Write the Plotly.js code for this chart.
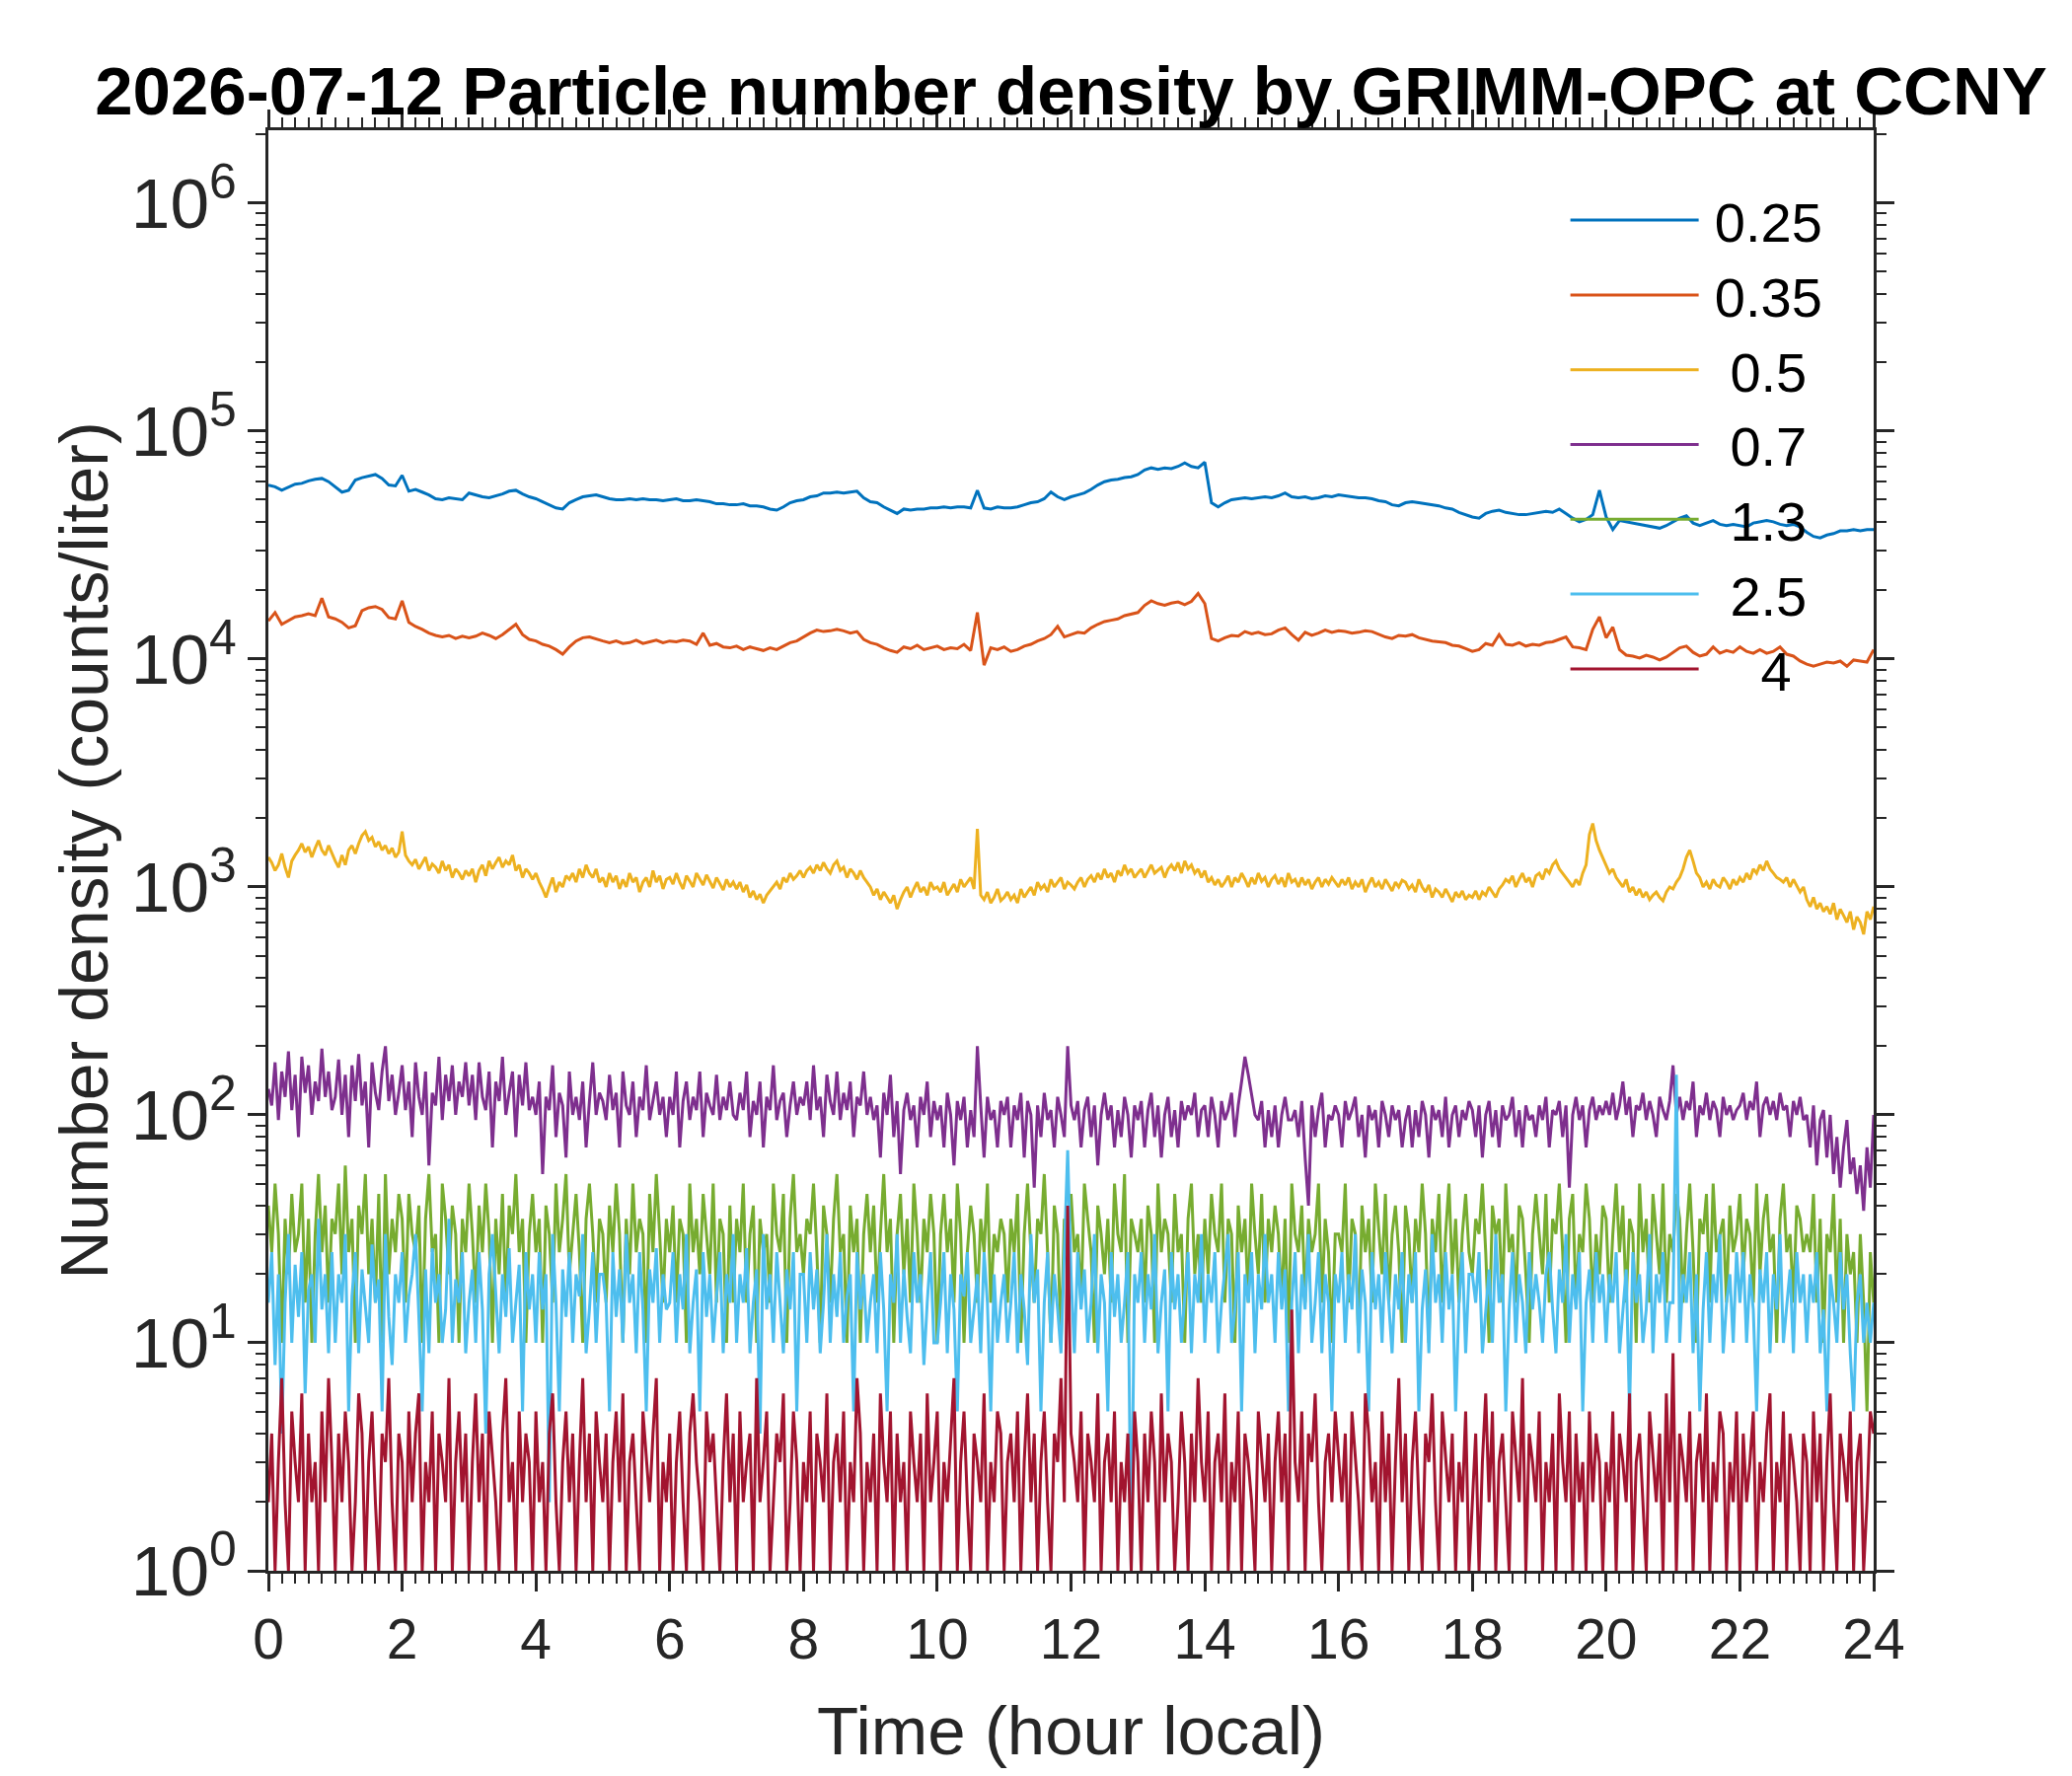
<!DOCTYPE html>
<html>
<head>
<meta charset="utf-8">
<script src="https://cdn.plot.ly/plotly-3.0.1.min.js"></script>
<style>
  html, body { margin: 0; padding: 0; background: #fff; }
</style>
</head>
<body>
<div id="chart-area" style="width:2100px;height:1800px"></div>
<script>
// size bins (um) as they appear in the legend (padded like MATLAB's num2str column)
const binNames = ["\u20090.25", "\u20090.35", "\u2009\u00a00.5", "\u2009\u00a00.7", "\u2009\u00a01.3", "\u2009\u00a02.5", "\u2009\u00a0\u00a0\u00a04"];
const binColors = ["#0072BD", "#D95319", "#EDB120", "#7E2F8E", "#77AC30", "#4DBEEE", "#A2142F"];

// y tick labels (MATLAB style 10^n for every decade)
const yTickAlias = { "1": "10<sup>0</sup>", "10": "10<sup>1</sup>" };

// 0.25 um, read every 0.1 h
const bin025 = [
  58000, 57000, 55000, 56500, 58500, 59000, 60500, 61500, 62000, 60000,
  57000, 54000, 55000, 61000, 62500, 63500, 64500, 62000, 58000, 57500,
  64000, 54500, 55500, 54000, 52500, 50500, 50000, 51000, 50500, 50000,
  53500, 52500, 51500, 51000, 52000, 53000, 54500, 55000, 53000, 51500,
  50500, 49000, 47500, 46000, 45500, 48500, 50000, 51500, 52000, 52500,
  51500, 50500, 50000, 50000, 50500, 50000, 50500, 50000, 50000, 49500,
  50000, 50500, 49500, 49500, 50000, 49500, 49000, 48000, 48000, 47500,
  47500, 48000, 47000, 47000, 46500, 45500, 45000, 46500, 48500, 49500,
  50000, 51500, 52000, 53500, 53500, 54000, 53500, 54000, 54500, 51000,
  49000, 48500, 46500, 45000, 43500, 45500, 45000, 45500, 45500, 46000,
  46000, 46500, 46000, 46500, 46500, 46000, 55000, 46000, 45500, 46500,
  46000, 46000, 46500, 47500, 48500, 49000, 50500, 54000, 51500, 50000,
  51500, 52500, 53500, 55500, 58000, 60000, 61000, 61500, 62500, 63000,
  64500, 67500, 69000, 68000, 69000, 68500, 70000, 72500, 70000, 69000,
  73000, 48500, 46500, 48500, 50000, 50500, 51000, 50500, 51000, 51500,
  51000, 52000, 53500, 51500, 51000, 51500, 50500, 51000, 52000, 51500,
  52500, 52000, 51500, 51000, 51000, 50500, 49500, 49000, 47500, 47000,
  48500, 49000, 48500, 48000, 47500, 47000, 46000, 45500, 44000, 43000,
  42000, 41500, 43500, 44500, 45000, 44000, 43500, 43000, 43000, 43500,
  44000, 44500, 44000, 45500, 43500, 41500, 40000, 41000, 43000, 55000,
  42000, 37000, 40500, 40000, 39500, 39000, 38500, 38000, 37500, 38500,
  40000, 41500, 42500, 39500, 38500, 39500, 40500, 39000, 38500, 39000,
  38500, 38000, 39500, 40000, 40500, 40000, 39000, 38500, 39000, 38000,
  36000, 34500, 34000, 35000, 35500, 36500, 36500, 37000, 36500, 37000,
  37000
];

// 0.35 um, every 0.1 h
const bin035 = [
  14700, 16000, 14200, 14800, 15300, 15500, 15800, 15500, 18500, 15300,
  15000, 14500, 13700, 14000, 16300, 16800, 17000, 16500, 15200, 15000,
  18000, 14500, 13900, 13500, 13000, 12700, 12500, 12700, 12300, 12600,
  12400, 12600, 13000, 12700, 12300, 12800, 13500, 14200, 12800, 12200,
  12000, 11600, 11400, 11000, 10500, 11300, 12000, 12400, 12500, 12200,
  12000, 11800, 12000, 11700, 11800, 12100, 11700, 11900, 12100, 11800,
  12000, 11900, 12100, 12000, 11600, 13000, 11500, 11700, 11300, 11200,
  11400, 11000, 11300, 11100, 10900, 11200, 11000, 11400, 11800, 12000,
  12500, 13000, 13400, 13200, 13300, 13500, 13300, 13000, 13200, 12200,
  11800, 11600, 11200, 10900, 10700, 11300, 11100, 11500, 11000, 11200,
  11400, 11000, 11200, 11100, 11600, 10900, 16000, 9400, 11200, 11000,
  11300, 10800, 11000, 11400, 11600, 12000, 12300, 12800, 13900, 12500,
  12800, 13100, 13000, 13700, 14200, 14600, 14800, 15000, 15500, 15800,
  16000, 17200, 18000, 17500, 17200, 17600, 17800, 17300, 17900, 19400,
  17500, 12300, 12000, 12400, 12700, 12600, 13200, 12900, 13100, 12800,
  12900, 13400, 13700, 12800, 12100, 13100, 12700, 13000, 13400, 13100,
  13300, 13200, 13000, 13100, 13300, 13200, 12800, 12500, 12300, 12700,
  12600, 12800, 12400, 12200, 12000, 11900, 11800, 11500, 11400, 11100,
  10800, 11000, 11700, 11500, 12800, 11600, 11500, 11800, 11400, 11600,
  11500, 11800, 11900, 12200, 12500, 11300, 11200, 11000, 13500, 15300,
  12400, 13800, 11000, 10400, 10300, 10100, 10400, 10200, 9900, 10200,
  10700, 11200, 11400, 10700, 10300, 10500, 11300, 10600, 10900, 10700,
  11300, 10800, 10600, 11000, 10600, 10800, 11300, 10500, 10300, 9800,
  9500, 9300, 9500, 9700, 9600, 9800, 9300, 9900, 9800, 9700,
  11000
];

// 0.5 um, every 0.05 h
const bin05 = [
  1350,1280,1180,1250,1400,1220,1100,1300,1380,1450,1550,1420,1500,1350,1480,1600,1450,1380,1520,1400,
  1300,1220,1380,1250,1450,1520,1400,1550,1680,1750,1600,1650,1500,1580,1450,1520,1400,1480,1350,1420,
  1750,1380,1300,1250,1320,1200,1280,1350,1180,1260,1220,1150,1300,1180,1250,1100,1200,1150,1080,1180,
  1120,1200,1050,1180,1250,1120,1300,1200,1280,1350,1220,1300,1250,1380,1180,1250,1100,1200,1150,1080,
  1150,1050,980,900,1000,1100,950,1050,1000,1120,1080,1150,1050,1200,1100,1250,1150,1100,1200,1050,
  1100,1000,1150,1050,1120,980,1080,1000,1150,1050,1100,950,1050,1100,1000,1180,1050,1120,980,1080,
  1100,1030,1150,1050,980,1120,1060,1000,1150,1080,1020,1130,1050,990,1100,1040,970,1080,1000,1050,
  980,1050,950,1020,900,960,880,930,850,920,960,1000,1050,980,1100,1050,1150,1080,1120,1180,
  1100,1180,1220,1150,1250,1180,1280,1200,1150,1250,1300,1180,1220,1100,1200,1150,1080,1180,1100,1050,
  1000,920,980,880,950,900,850,920,800,880,950,1000,900,980,1050,950,1000,920,1050,980,
  1000,950,1050,920,980,1030,950,1080,1000,1050,1100,980,1800,920,880,950,850,900,980,870,
  900,950,880,920,850,980,900,950,1000,920,1050,980,1020,950,1080,1000,1050,1100,980,1050,
  1020,980,1050,1100,1000,1080,1120,1050,1150,1080,1200,1100,1150,1050,1180,1120,1250,1150,1200,1100,
  1150,1200,1100,1180,1250,1150,1180,1220,1100,1200,1250,1180,1280,1150,1300,1200,1250,1150,1200,1100,
  1180,1050,1100,1020,1080,1000,1050,1120,1000,1100,1050,1150,1080,1000,1100,1030,1150,1060,1100,1000,
  1080,1120,1030,1100,1000,1150,1050,1080,1000,1100,1020,1080,980,1050,1100,1000,1080,1030,1100,1050,
  1000,1080,1020,1100,980,1050,1000,1080,950,1030,1100,1000,1050,980,1080,1020,960,1050,1000,1070,
  1050,980,1020,950,1080,1000,950,1020,900,980,950,900,980,920,860,950,900,960,880,920,
  900,960,880,950,920,1000,950,900,980,1020,1080,1050,1120,1000,1080,1150,1050,1100,1000,1120,
  1150,1080,1200,1150,1250,1300,1200,1150,1100,1050,1000,1080,1020,1150,1250,1700,1900,1600,1450,1350,
  1250,1150,1200,1100,1050,1000,1080,950,1000,920,980,900,950,880,920,950,900,870,950,1000,
  980,1050,1100,1200,1350,1450,1300,1150,1100,1000,1050,980,1080,1020,1000,1100,1050,980,1080,1020,
  1100,1050,1150,1080,1200,1150,1250,1180,1300,1200,1150,1100,1080,1050,1100,1000,1080,1020,950,1000,
  880,820,900,800,850,780,820,760,850,720,800,750,700,780,650,740,700,620,780,720,
  820
];

// 0.7 um, every 0.05 h
const bin07 = [
  130,110,170,95,155,120,190,105,150,80,180,125,165,100,140,115,195,120,155,105,
  120,175,100,150,80,165,115,185,110,140,72,170,125,105,155,200,115,150,100,125,
  165,105,140,80,170,120,100,155,60,125,110,180,95,150,115,165,100,140,120,170,
  110,150,95,170,120,105,155,72,140,115,180,100,125,155,80,150,110,170,105,120,
  100,140,55,120,105,165,80,125,110,65,155,100,120,95,140,72,115,170,100,125,
  115,95,150,105,125,72,155,110,100,140,80,120,105,165,95,115,140,100,120,80,
  120,100,155,72,115,140,95,120,105,155,80,125,110,100,150,95,120,105,140,100,
  95,125,105,155,80,115,100,140,72,120,105,165,95,115,125,80,110,140,100,120,
  110,140,95,165,105,120,80,150,115,100,155,95,125,105,140,80,120,110,155,100,
  120,95,110,65,125,100,150,80,115,55,105,125,95,110,72,120,100,140,80,115,
  95,110,72,125,100,60,115,95,120,72,105,80,200,110,65,120,95,105,72,115,
  100,120,72,110,95,125,65,115,100,48,110,80,125,95,105,72,120,100,80,200,
  110,95,115,72,105,120,80,110,60,100,125,95,110,72,105,80,120,100,65,110,
  95,115,72,105,125,80,110,65,100,120,80,105,72,115,95,110,100,125,80,105,
  110,80,120,100,72,115,95,105,125,80,110,140,180,150,120,100,95,115,72,105,
  80,110,72,100,120,95,95,105,80,115,65,40,110,80,105,125,72,100,95,110,
  100,72,115,95,105,120,80,100,65,110,95,105,72,115,100,80,110,95,105,72,
  95,110,72,105,80,115,100,65,110,95,105,80,120,72,100,110,80,105,95,115,
  105,80,110,65,100,115,80,105,72,110,95,100,120,80,105,72,110,95,100,80,
  110,95,120,72,105,100,115,80,110,48,100,120,95,110,72,105,120,95,110,100,
  115,100,125,95,110,140,100,120,80,110,105,125,95,115,100,80,120,105,95,115,
  165,100,120,95,115,105,140,80,110,100,125,95,115,105,80,120,100,110,95,105,
  110,125,95,115,105,140,80,110,120,100,115,95,125,105,110,80,115,100,120,95,
  100,72,110,60,95,105,65,100,55,80,48,72,95,55,65,45,60,38,72,48,
  100
];

// 1.3 um, every 0.05 h
const bin13 = [
  40,25,50,30,10,35,20,45,25,30,50,15,35,10,30,55,25,40,15,35,
  30,50,20,60,25,35,10,40,30,55,20,35,15,45,10,55,20,35,25,45,
  35,15,45,30,25,40,10,35,55,25,30,10,50,35,20,40,30,10,35,25,
  50,30,15,40,25,50,30,10,35,20,45,15,40,30,55,25,35,10,30,45,
  25,35,10,40,30,15,50,25,35,55,20,30,45,25,10,35,50,30,15,35,
  30,15,40,25,50,30,10,35,20,50,25,35,30,10,45,25,55,30,15,35,
  25,40,15,35,30,10,50,25,35,20,45,30,20,50,15,35,30,10,40,15,
  35,25,50,15,30,40,10,35,25,30,15,50,30,25,45,10,35,55,25,30,
  20,35,30,50,25,10,40,30,15,35,55,25,30,10,40,25,35,10,30,45,
  25,40,15,30,55,25,35,10,30,45,20,35,15,50,30,15,35,25,45,30,
  10,30,45,25,35,15,50,30,10,25,40,30,15,35,25,50,15,30,25,35,
  30,15,35,25,45,10,30,50,25,15,35,30,55,25,10,40,30,10,35,25,
  45,25,30,15,50,35,25,10,40,30,20,35,15,50,30,25,55,10,35,30,
  25,35,15,40,30,10,50,25,35,30,15,45,25,30,10,35,50,20,30,15,
  35,20,45,30,25,50,15,35,30,10,40,25,35,15,50,30,20,45,15,35,
  25,40,30,15,35,10,50,30,25,40,15,35,25,30,50,15,35,25,10,30,
  30,25,50,15,35,30,10,40,25,35,15,50,30,20,45,15,30,40,25,10,
  40,30,15,35,25,50,30,10,35,25,45,15,30,50,20,35,15,30,45,25,
  20,35,30,50,25,10,40,30,35,15,50,25,30,15,40,35,20,10,30,45,
  30,20,45,15,35,30,50,25,10,35,45,15,30,25,50,35,15,30,20,40,
  35,15,30,50,25,40,15,35,30,10,50,25,35,15,45,30,20,50,15,30,
  25,45,35,15,30,50,25,10,35,30,45,15,50,25,30,35,15,40,25,30,
  45,20,35,30,15,50,20,35,45,25,30,10,35,50,25,30,15,40,35,25,
  30,25,45,15,35,10,30,25,45,15,35,10,30,20,25,10,30,15,5,25,
  15
];

// 2.5 um, every 0.05 h
const bin25 = [
  15,25,8,20,4,15,30,10,22,13,25,6,17,20,10,35,14,20,9,25,
  10,20,15,30,5,16,25,9,21,14,10,27,15,19,5,30,13,8,20,15,
  25,10,16,20,30,13,5,21,9,26,15,20,10,14,35,10,19,15,25,9,
  15,21,10,25,14,4,20,30,16,9,20,13,26,10,15,22,5,25,14,20,
  10,25,14,20,2,30,15,5,21,13,25,10,20,16,30,9,14,25,10,20,
  20,15,5,25,13,21,10,30,15,20,9,25,14,5,21,15,26,10,20,14,
  15,25,10,20,14,30,9,15,21,5,25,13,20,10,16,25,9,20,15,30,
  10,20,15,26,9,15,21,4,30,14,20,10,25,15,9,21,14,25,5,20,
  20,10,25,14,21,9,15,30,10,20,13,25,10,16,20,5,25,14,20,10,
  15,20,9,25,14,5,20,15,30,10,21,13,9,25,15,20,8,15,25,10,
  10,15,25,9,20,14,5,20,16,25,10,14,20,9,25,15,5,20,10,15,
  20,10,15,25,9,20,14,8,30,15,21,5,15,25,10,20,14,9,25,70,
  20,9,25,14,21,10,15,30,9,20,15,5,25,13,20,10,15,25,1,20,
  15,25,10,20,14,30,9,15,21,5,25,14,20,10,16,25,9,20,15,30,
  10,20,15,25,9,15,21,30,10,14,25,5,20,15,25,9,20,14,30,15,
  20,10,25,14,21,5,15,25,9,20,14,30,10,15,25,9,20,15,5,20,
  15,25,10,20,14,30,9,21,15,5,25,14,20,10,25,15,9,20,14,25,
  10,20,15,25,5,14,21,9,30,15,20,10,25,14,20,5,15,25,9,20,
  20,15,25,9,14,21,10,30,15,20,5,14,25,10,20,15,9,25,14,20,
  15,10,20,25,14,9,21,15,30,10,20,14,25,5,15,21,10,25,15,20,
  10,20,15,25,9,14,21,5,25,15,20,10,14,30,9,20,15,25,10,15,
  15,150,10,20,15,25,9,20,5,14,25,10,20,15,30,9,15,20,10,25,
  15,25,10,20,14,5,21,15,25,9,20,14,30,10,15,21,9,25,15,20,
  10,20,15,25,9,14,5,20,15,10,25,14,20,9,5,15,20,10,15,10,
  15
];

// 4 um, every 0.05 h
const bin4 = [
  2,4,1,3,7,2,1,5,3,2,6,1,4,2,3,1,5,2,7,3,
  1,4,2,5,3,1,2,6,4,1,3,5,2,1,4,3,7,2,1,4,
  3,1,5,2,4,6,1,3,2,5,1,4,3,2,7,1,3,5,2,4,
  1,3,6,2,4,1,5,3,2,1,4,7,2,3,1,5,2,4,3,1,
  5,2,3,1,4,6,2,1,3,5,2,4,1,3,7,2,4,1,5,3,
  2,4,1,3,5,2,6,1,3,4,2,1,5,3,2,4,7,1,3,2,
  4,1,3,5,2,1,4,6,3,2,1,5,3,4,2,1,3,6,2,4,
  1,5,2,3,4,1,7,2,3,5,1,2,4,3,6,1,2,5,3,1,
  3,2,5,1,4,3,2,6,1,3,4,2,5,1,3,2,7,4,1,3,
  2,4,1,6,3,2,5,1,4,2,3,1,5,3,2,4,1,6,2,3,
  5,1,3,2,4,7,1,3,5,2,1,4,3,2,6,1,3,2,5,4,
  1,3,4,2,5,1,3,6,2,4,1,3,5,2,1,4,3,7,2,40,
  4,3,2,5,1,4,3,2,6,1,3,4,2,5,1,3,2,4,1,5,
  3,1,4,2,5,3,1,6,2,4,3,1,2,5,3,1,4,2,7,3,
  2,5,1,3,4,2,6,1,3,2,5,1,4,3,2,1,5,3,2,4,
  1,3,5,2,4,1,14,3,2,5,1,4,3,6,2,1,3,4,2,5,
  3,2,4,1,5,3,2,1,6,4,2,3,1,5,2,4,1,3,7,2,
  4,1,3,5,2,1,4,3,6,2,1,5,3,2,4,1,3,2,5,1,
  2,4,1,3,6,2,5,1,3,4,2,1,5,3,2,7,1,4,3,2,
  5,1,3,2,4,1,6,3,2,5,1,4,2,3,1,5,2,4,3,1,
  3,2,5,1,4,3,2,6,1,3,4,2,1,5,3,2,4,1,6,2,
  9,1,4,3,2,5,1,3,4,2,6,1,3,2,5,4,1,3,2,5,
  1,4,2,3,5,1,3,2,4,6,1,3,2,5,1,4,3,2,1,4,
  3,1,5,2,4,1,3,6,2,1,4,3,2,5,1,3,4,1,2,5,
  4
];

// sampling times (hour local)
let hoursCoarse = [];
for (let i = 0; i <= 240; i++) hoursCoarse.push(i / 10);
let hoursFine = [];
for (let i = 0; i <= 480; i++) hoursFine.push(i / 20);

const seriesList = [bin025, bin035, bin05, bin07, bin13, bin25, bin4];

let data = [];
for (let k = 0; k < seriesList.length; k++) {
  let ys = seriesList[k];
  data.push({
    type: "scatter",
    mode: "lines",
    x: ys.length === hoursCoarse.length ? hoursCoarse : hoursFine,
    y: ys,
    name: binNames[k],
    line: { color: binColors[k], width: 3 },
    hoverinfo: "none",
  });
}

const axisColor = "#262626";
const fontFamily = "Liberation Sans, Arial, Helvetica, sans-serif";

var layout = {
  width: 2100,
  height: 1800,
  margin: { l: 272, r: 201, t: 132, b: 208 },
  paper_bgcolor: "#ffffff",
  plot_bgcolor: "#ffffff",
  font: { family: fontFamily, color: axisColor, size: 57 },
  title: {
    text: "<b>2026-07-12 Particle number density by GRIMM-OPC at CCNY</b>",
    font: { family: fontFamily, size: 69, color: "#000000" },
    x: 0.5,
    xref: "paper",
    xanchor: "center",
    y: 1,
    yref: "paper",
    yanchor: "bottom",
    pad: { b: 16 },
  },
  xaxis: {
    range: [0, 24],
    tick0: 0,
    dtick: 2,
    ticks: "outside",
    ticklen: 18,
    tickwidth: 2.5,
    tickcolor: axisColor,
    showline: true,
    linewidth: 2.5,
    linecolor: axisColor,
    mirror: "ticks",
    showgrid: false,
    zeroline: false,
    tickfont: { size: 57, color: axisColor },
    minor: { dtick: 0.2, ticks: "outside", ticklen: 10, tickwidth: 2, tickcolor: axisColor, showgrid: false },
    title: { text: "Time (hour local)", font: { size: 69, color: axisColor }, standoff: 38 },
  },
  yaxis: {
    type: "log",
    range: [0, 6.32],
    tick0: 0,
    dtick: 1,
    exponentformat: "power",
    labelalias: yTickAlias,
    ticks: "outside",
    ticklen: 18,
    tickwidth: 2.5,
    tickcolor: axisColor,
    showline: true,
    linewidth: 2.5,
    linecolor: axisColor,
    mirror: "ticks",
    showgrid: false,
    zeroline: false,
    tickfont: { size: 57, color: axisColor },
    minor: { dtick: "D1", ticks: "outside", ticklen: 10, tickwidth: 2, tickcolor: axisColor, showgrid: false },
    title: { text: "Number density (counts/liter)", font: { size: 68, color: axisColor }, standoff: 2 },
  },
  showlegend: true,
  legend: {
    x: 0.808,
    xanchor: "left",
    y: 0.967,
    yanchor: "top",
    bgcolor: "rgba(0,0,0,0)",
    borderwidth: 0,
    itemwidth: 130,
    font: { family: fontFamily, size: 56, color: "#000000" },
  },
};

var config = { displayModeBar: false, responsive: false };

Plotly.newPlot("chart-area", data, layout, config);
</script>
</body>
</html>
